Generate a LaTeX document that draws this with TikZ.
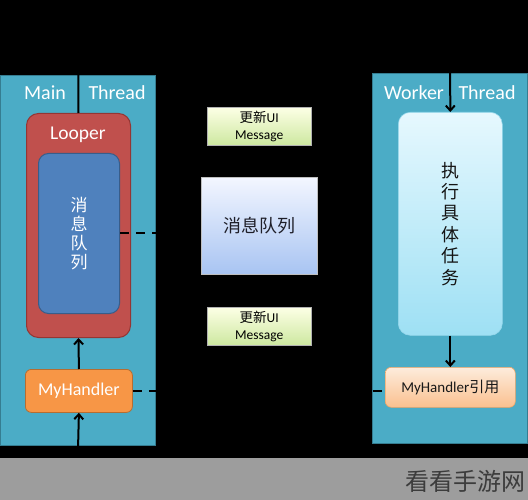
\documentclass[tikz,border=0pt]{standalone}
\usepackage{fontspec}
\setmainfont{Carlito}
\newfontfamily\cjk{Noto Sans CJK SC}
\usetikzlibrary{arrows.meta}
\definecolor{panelc}{HTML}{4BACC6}
\definecolor{paneld}{HTML}{357D91}
\definecolor{looperc}{HTML}{C0504D}
\definecolor{looperd}{HTML}{943634}
\definecolor{innerc}{HTML}{4F81BD}
\definecolor{innerd}{HTML}{385D8A}
\definecolor{handc}{HTML}{F79646}
\definecolor{handd}{HTML}{B66D31}
\definecolor{wmband}{HTML}{9D9D9D}
\definecolor{wmtext}{HTML}{3C3C3C}
\tikzset{
  panel/.style={fill=panelc, draw=paneld, line width=0.6pt, anchor=north west},
  lbl/.style={text=white, font=\fontsize{20}{22}\selectfont, inner sep=0pt},
  msgbox/.style={anchor=north west, draw=gray!60, line width=0.5pt, top color=green!8!yellow!10!white, bottom color={rgb,255:red,205;green,232;blue,160}, minimum width=104pt, minimum height=38pt, align=center, inner sep=0pt, font=\fontsize{13.5}{17}\selectfont},
  arr/.style={line width=2pt, -{Straight Barb[length=5pt,width=9pt]}},
  plain/.style={line width=2pt},
  dsh/.style={line width=2pt, dash pattern=on 9pt off 7pt}
}
\begin{document}
\begin{tikzpicture}[x=1pt,y=-1pt]
\fill[black] (0,0) rectangle (528,500);
\useasboundingbox (0,0) rectangle (528,500);
\fill[wmband] (0,458) rectangle (528,500);
\node[text=wmtext, font=\cjk\fontsize{24}{24}\selectfont, inner sep=0pt] (wm) at (465,481) {看看手游网};

% panels
\node[panel, minimum width=155pt, minimum height=370pt] (mainp) at (0,75) {};
\node[panel, minimum width=155pt, minimum height=370pt] (workp) at (372,73) {};
\node[lbl] (mainl) at (45,93) {Main};
\node[lbl] (mainr) at (117,93) {Thread};
\node[lbl] (workl) at (414,93) {Worker};
\node[lbl] (workr) at (487,93) {Thread};

% Looper
\node[anchor=north west, fill=looperc, draw=looperd, line width=1pt, rounded corners=12pt, minimum width=104pt, minimum height=224pt] (looper) at (26,113) {};
\node[text=white, font=\fontsize{19.5}{22}\selectfont, inner sep=0pt] (looperlbl) at (78,135) {Looper};
\node[anchor=north west, fill=innerc, draw=innerd, line width=1pt, rounded corners=10pt, minimum width=81pt, minimum height=160pt, align=center, text=white, font=\cjk\fontsize{17}{19}\selectfont, inner sep=0pt] (inner) at (38,153) {消\\息\\队\\列};

% MyHandler
\node[anchor=north west, fill=handc, draw=handd, line width=0.8pt, rounded corners=6pt, minimum width=107pt, minimum height=43pt, text=white, font=\fontsize{18}{20}\selectfont, inner sep=0pt] (mh) at (25,369) {MyHandler};

% center
\node[msgbox] (msg1) at (207,107) {{\cjk 更新}UI\\Message};
\node[anchor=north west, draw=gray!50, line width=0.5pt, top color={rgb,255:red,243;green,246;blue,255}, bottom color={rgb,255:red,168;green,196;blue,242}, minimum width=116pt, minimum height=97pt, font=\cjk\fontsize{18}{20}\selectfont, text={rgb,255:red,30;green,30;blue,40}, inner sep=0pt] (queue) at (201,177) {消息队列};
\node[msgbox] (msg2) at (207,307) {{\cjk 更新}UI\\Message};

% worker
\node[anchor=north west, draw={rgb,255:red,150;green,215;blue,235}, line width=0.6pt, rounded corners=12pt, top color={rgb,255:red,230;green,248;blue,254}, bottom color={rgb,255:red,158;green,224;blue,244}, minimum width=104pt, minimum height=223pt, align=center, font=\cjk\fontsize{18}{21.4}\selectfont, text={rgb,255:red,20;green,20;blue,20}, inner sep=0pt] (exec) at (398,112) {执\\行\\具\\体\\任\\务};
\node[anchor=north west, draw={rgb,255:red,240;green,165;blue,100}, line width=0.6pt, rounded corners=6pt, top color={rgb,255:red,253;green,236;blue,220}, bottom color={rgb,255:red,250;green,192;blue,143}, minimum width=130pt, minimum height=40pt, font=\fontsize{15}{17}\selectfont, text={rgb,255:red,25;green,25;blue,25}, inner sep=0pt] (mhr) at (385,367) {MyHandler{\cjk 引用}};

% connectors
\coordinate (mtop) at (78,20);
\coordinate (mbot) at (78,450);
\coordinate (wtop) at (450,20);
\draw[plain] (mtop) -- (looper.north);
\draw[arr] (mh.north) -- (looper.south);
\draw[arr] (mbot) -- (mh.south);
\draw[arr] (wtop) -- (exec.north);
\draw[arr] (exec.south) -- (mhr.north);
\draw[dsh] (inner.east) -- (inner.east -| queue.west);
\draw[dsh] (mh.east) -- (mh.east -| mhr.west);
\end{tikzpicture}
\end{document}
